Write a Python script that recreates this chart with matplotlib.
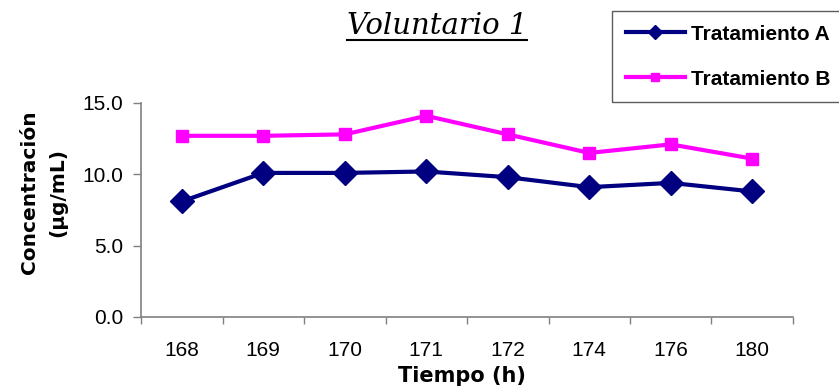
"""Concentración vs tiempo, voluntario 1."""
import matplotlib
matplotlib.use("Agg")
import matplotlib.pyplot as plt
from matplotlib.lines import Line2D

hours = ["168", "169", "170", "171", "172", "174", "176", "180"]
trat_a = [8.1, 10.1, 10.1, 10.2, 9.8, 9.1, 9.4, 8.8]
trat_b = [12.7, 12.7, 12.8, 14.1, 12.8, 11.5, 12.1, 11.1]
yticks = [0.0, 5.0, 10.0, 15.0]

plt.rcParams["font.family"] = ["Liberation Sans", "DejaVu Sans"]

fig = plt.figure(figsize=(8.39, 3.89), dpi=100)
ax = fig.add_axes([141 / 839, 1 - 317 / 389, 652 / 839, 214 / 389])

x = list(range(len(hours)))
ax.plot(x, trat_a, color="#000080", lw=3, marker="D", ms=12, label="Tratamiento A")
ax.plot(x, trat_b, color="#FF00FF", lw=3, marker="s", ms=9, label="Tratamiento B")

ax.set_xlim(-0.5, len(hours) - 0.5)
ax.set_ylim(0, 15)
ax.set_yticks(yticks)
ax.set_yticklabels([f"{v:.1f}" for v in yticks])
# excel style: ticks between categories, labels centred
ax.set_xticks([i - 0.5 for i in range(len(hours) + 1)])
ax.set_xticklabels([])
ax.set_xticks(x, minor=True)
ax.set_xticklabels(hours, minor=True)
ax.tick_params(axis="x", which="minor", length=0, pad=17, labelsize=15)
ax.tick_params(axis="x", which="major", length=5, color="#808080", width=1)
ax.tick_params(axis="y", length=6, color="#808080", width=1, labelsize=15, pad=7)

for s in ["top", "right"]:
    ax.spines[s].set_visible(False)
for s in ["left", "bottom"]:
    ax.spines[s].set_color("#808080")
    ax.spines[s].set_linewidth(1.2)

ax.set_xlabel("Tiempo (h)", fontsize=15, fontweight="bold", family="DejaVu Sans")
ax.xaxis.set_label_coords(0.492, -0.229)
ax.set_ylabel("Concentración\n(µg/mL)", fontsize=14.5, fontweight="bold",
              family="DejaVu Sans", linespacing=1.65)
ax.yaxis.set_label_coords(-0.113, 0.584)

title = fig.text(437 / 839, 1 - 26 / 389, "Voluntario 1", ha="center", va="center",
                 fontsize=21, style="italic", family="DejaVu Serif")
fig.canvas.draw()
bb = title.get_window_extent().transformed(fig.transFigure.inverted())
uy = 1 - 39.5 / 389
fig.add_artist(Line2D([bb.x0, bb.x1], [uy, uy],
                      transform=fig.transFigure, color="black", lw=1.5))

leg = fig.legend(loc="upper left", bbox_to_anchor=(612 / 839, 1 - 11 / 389),
                 prop={"weight": "bold", "size": 15}, frameon=True, fancybox=False,
                 edgecolor="#333333", handlelength=2.85, handletextpad=0.3,
                 labelspacing=1.25, markerscale=0.6, borderpad=0.65, borderaxespad=0)
leg.get_frame().set_linewidth(1.0)

fig.savefig("out.png", dpi=100)
